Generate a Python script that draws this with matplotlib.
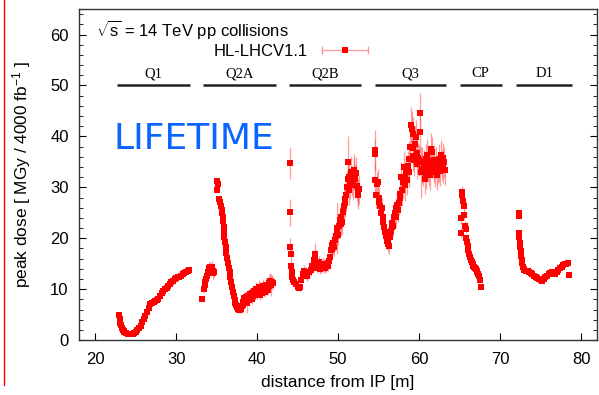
import numpy as np
import matplotlib
matplotlib.use("Agg")
import matplotlib.pyplot as plt
from matplotlib.ticker import MultipleLocator
from matplotlib.legend_handler import HandlerErrorbar
from matplotlib.container import ErrorbarContainer

plt.rcParams['font.family'] = ['Liberation Sans', 'DejaVu Sans']
plt.rcParams['mathtext.fontset'] = 'custom'
plt.rcParams['mathtext.rm'] = 'Liberation Sans'
plt.rcParams['mathtext.it'] = 'Liberation Sans:italic'

# Q1
q1_x = [22.9, 23.0, 23.1, 23.2, 23.3, 23.4, 23.5, 23.6, 23.8, 24.0, 24.2, 24.4, 24.6, 24.8,
        25.0, 25.2, 25.4, 25.6, 25.8, 26.0, 26.2, 26.4, 26.6, 26.8, 27.0, 27.2, 27.4, 27.6,
        27.8, 28.0, 28.2, 28.4, 28.6, 28.8, 29.0, 29.2, 29.4, 29.6, 29.8, 30.0, 30.2, 30.4,
        30.6, 30.8, 31.0, 31.2, 31.4, 31.6]
q1_y = [4.9, 4.1, 3.4, 2.9, 2.4, 2.0, 1.7, 1.5, 1.3, 1.2, 1.1, 1.1, 1.2, 1.4,
        1.6, 1.9, 2.3, 2.8, 3.5, 4.1, 4.8, 5.5, 6.3, 7.0, 7.3, 7.5, 7.6, 7.8,
        8.1, 8.6, 9.2, 9.6, 10.0, 10.3, 10.7, 11.1, 11.4, 11.6, 11.9, 12.1, 12.3, 12.4,
        12.6, 12.9, 13.1, 13.3, 13.5, 13.7]
q1_err = [0.3] * len(q1_x)

# Q2A
q2a_x = [33.2, 33.4, 33.5, 33.6, 33.7, 33.8, 33.9, 34.0, 34.1, 34.2, 34.3, 34.4, 34.5, 34.6, 34.7,
         35.05, 35.1, 35.05, 35.3, 35.4, 35.5, 35.6, 35.7, 35.75, 35.8, 35.85, 35.9, 35.95,
         36.05, 36.1, 36.2, 36.3, 36.4, 36.5, 36.6, 36.7, 36.8, 36.9, 37.0, 37.1, 37.2, 37.3,
         37.4, 37.5, 37.6, 37.7, 37.8, 37.9, 38.0,
         38.1, 38.2, 38.3, 38.4, 38.5, 38.6, 38.7, 38.8, 38.9, 39.0, 39.1, 39.2, 39.3, 39.4,
         39.5, 39.6, 39.7, 39.8, 39.9, 40.0, 40.1, 40.2, 40.3, 40.4, 40.5, 40.6, 40.7, 40.8,
         40.9, 41.0, 41.1, 41.2, 41.3, 41.4, 41.5, 41.6, 41.7, 41.8, 41.9]
q2a_y = [8.1, 10.0, 10.8, 11.4, 12.0, 12.6, 13.3, 13.8, 14.2, 14.3, 14.0, 14.3, 13.6, 13.1, 13.4,
         31.3, 30.6, 29.5, 27.8, 27.1, 26.3, 25.6, 25.0, 24.2, 23.4, 22.3, 21.2, 20.3,
         19.2, 18.3, 17.2, 16.1, 15.1, 14.2, 13.3, 12.4, 11.4, 10.4, 9.4, 8.6, 7.9, 7.3,
         6.8, 6.5, 6.2, 6.0, 5.9, 5.9, 6.2,
         6.6, 7.4, 6.8, 8.2, 7.6, 8.5, 7.2, 8.0, 8.6, 7.8, 9.0, 8.4, 8.0, 9.2,
         8.6, 9.6, 8.8, 9.4, 10.0, 9.0, 9.8, 10.4, 8.8, 9.6, 10.2, 9.2, 10.6, 9.8,
         10.2, 9.4, 10.8, 10.4, 9.8, 11.2, 10.6, 11.6, 10.8, 11.4, 11.2]
q2a_err = [0.5, 0.8, 0.8, 0.9, 0.9, 1.0, 1.0, 1.0, 1.1, 1.1, 1.1, 1.2, 1.1, 1.1, 1.0,
           0.4, 0.4, 0.4, 0.3, 0.3, 0.3, 0.3, 0.3, 0.3, 0.3, 0.3, 0.3, 0.3,
           0.3, 0.3, 0.3, 0.3, 0.3, 0.3, 0.3, 0.3, 0.3, 0.3, 0.3, 0.3, 0.3, 0.3,
           0.4, 0.4, 0.4, 0.5, 0.5, 0.6, 0.7,
           0.8, 1.0, 1.0, 1.2, 1.0, 1.2, 1.8, 1.0, 1.2, 1.0, 1.2, 1.0, 1.0, 1.2,
           1.0, 1.2, 1.0, 1.2, 1.4, 1.0, 1.2, 1.4, 1.0, 1.2, 1.4, 1.0, 1.4, 1.2,
           1.2, 1.0, 1.4, 1.2, 1.0, 1.6, 1.2, 1.6, 2.2, 1.4, 1.2]

# Q2B
q2b_x = [44.0, 44.05, 44.1, 44.15, 44.2, 44.25, 44.35, 44.45, 44.6, 44.8, 45.0, 45.2, 45.3,
         45.45, 45.6, 45.8, 46.0, 46.2, 46.4, 46.6, 46.8, 47.0, 47.1, 47.2, 47.3, 47.4, 47.5,
         47.6, 47.7, 47.8, 47.9, 48.0, 48.1, 48.2, 48.3, 48.4, 48.5, 48.6, 48.7, 48.8, 48.9,
         49.0, 49.1, 49.2, 49.3, 49.4, 49.5, 49.6, 49.7, 49.8, 49.9, 50.0, 50.1, 50.2, 50.3,
         50.4, 50.5, 50.6, 50.7, 50.8, 50.9, 51.0, 51.1, 51.2, 51.25, 51.3, 51.4, 51.5, 51.6,
         51.7, 51.8, 51.9, 52.0, 52.1, 52.2, 52.3, 52.4, 52.5, 52.6]
q2b_y = [34.8, 25.1, 18.3, 17.0, 14.5, 13.3, 12.4, 11.8, 11.4, 11.0, 10.5, 10.2, 10.4,
         11.8, 12.9, 13.5, 13.0, 12.6, 13.4, 13.8, 14.6, 15.8, 17.0, 16.2, 15.0, 14.2, 14.8,
         15.3, 14.4, 14.0, 14.6, 14.2, 15.0, 14.4, 14.8, 14.2, 14.6, 15.0, 14.5, 15.2, 15.6,
         16.4, 17.6, 18.6, 17.8, 19.0, 18.2, 19.6, 20.4, 22.0, 21.2, 20.6, 22.4, 23.6, 22.8,
         24.2, 23.2, 25.2, 26.4, 27.8, 27.0, 28.4, 30.0, 34.9, 31.6, 29.4, 32.0, 30.8, 33.0,
         31.2, 30.4, 32.6, 33.4, 31.6, 32.8, 30.2, 29.0, 28.4, 29.6]
q2b_err = [3.2, 2.6, 1.7, 1.5, 1.0, 0.8, 0.7, 0.6, 0.6, 0.6, 0.6, 0.6, 0.8,
           1.0, 1.0, 1.2, 1.0, 1.0, 1.2, 1.2, 1.4, 1.6, 2.0, 1.4, 1.2, 1.0, 1.2,
           1.2, 1.0, 1.0, 1.2, 1.0, 1.2, 1.0, 1.2, 1.0, 1.2, 1.2, 1.0, 1.2, 1.4,
           1.6, 1.8, 2.0, 1.6, 2.0, 1.6, 2.2, 2.4, 5.0, 2.2, 2.0, 2.4, 2.6, 2.4,
           2.6, 2.4, 2.8, 3.0, 3.0, 2.8, 3.0, 3.2, 5.2, 3.0, 2.8, 3.2, 3.0, 3.2,
           3.0, 2.8, 3.2, 3.2, 3.0, 3.2, 2.8, 2.6, 2.6, 2.8]

# Q3
q3_x = [54.5, 54.55, 54.6, 54.7, 54.8, 54.9, 55.0, 55.1, 55.2, 55.3, 55.4, 55.5, 55.6, 55.7,
        55.8, 55.9, 56.0, 56.1, 56.2, 56.3, 56.4, 56.5, 56.6, 56.7, 56.8, 56.9, 57.0, 57.1,
        57.2, 57.3, 57.4, 57.5, 57.6, 57.7, 57.8, 57.9, 58.0, 58.1, 58.2, 58.3, 58.4, 58.5,
        58.6, 58.7, 58.8, 58.9, 59.0, 59.1, 59.2, 59.25, 59.3, 59.4, 59.5, 59.6, 59.7, 59.8,
        59.9, 60.0, 60.1, 60.15, 60.2, 60.3, 60.4, 60.5, 60.6, 60.7, 60.8, 60.9, 61.0, 61.1,
        61.2, 61.3, 61.4, 61.5, 61.6, 61.7, 61.8, 61.9, 62.0, 62.1, 62.2, 62.3, 62.4, 62.5,
        62.6, 62.7, 62.8, 62.9, 63.0, 63.1, 63.2]
q3_y = [37.3, 36.5, 31.5, 28.4, 30.6, 31.0, 28.0, 27.1, 26.4, 25.0, 26.0, 24.1, 23.2, 22.2,
        21.2, 20.4, 19.4, 18.8, 19.6, 18.5, 20.2, 21.4, 22.2, 23.0, 22.4, 24.1, 25.0, 24.2,
        25.9, 26.5, 25.6, 27.0, 28.6, 28.0, 32.0, 29.4, 31.0, 33.9, 31.8, 30.4, 33.0, 31.4,
        34.2, 33.0, 35.6, 38.0, 42.2, 41.5, 40.4, 37.8, 36.2, 35.3, 38.6, 39.8, 36.8, 34.6,
        35.8, 35.3, 44.5, 40.8, 33.0, 33.6, 35.0, 33.2, 34.3, 31.6, 32.7, 35.6, 36.4, 34.0,
        33.2, 32.4, 35.2, 37.6, 36.9, 34.6, 33.8, 35.4, 33.0, 34.9, 32.4, 33.6, 35.6, 34.0,
        33.2, 36.3, 34.4, 33.7, 35.8, 34.9, 33.4]
q3_err = [4.0, 3.0, 3.0, 2.5, 2.5, 2.5, 2.0, 2.0, 2.0, 2.0, 2.0, 2.0, 2.0, 2.0,
          1.5, 1.5, 1.5, 1.5, 1.5, 1.5, 1.5, 1.5, 2.0, 2.0, 2.0, 2.0, 2.0, 2.0,
          2.0, 2.5, 2.5, 2.5, 2.5, 2.5, 3.0, 3.0, 3.0, 3.0, 3.0, 3.0, 3.0, 3.0,
          3.0, 3.0, 3.5, 3.5, 3.5, 3.5, 3.5, 3.5, 3.0, 3.0, 3.5, 3.5, 3.0, 3.0,
          3.0, 3.0, 4.0, 4.0, 5.0, 3.0, 3.0, 3.0, 3.0, 3.0, 3.0, 3.0, 3.0, 3.0,
          3.0, 3.0, 3.0, 3.0, 3.0, 3.0, 3.0, 3.0, 3.0, 3.0, 3.0, 3.0, 3.0, 3.0,
          3.0, 3.0, 3.0, 3.0, 3.0, 3.0, 3.0]

# CP
cp_x = [65.3, 65.35, 65.4, 65.5, 65.6, 65.2, 65.7, 65.75, 65.2, 65.8, 65.9, 66.0, 66.1, 66.2,
        66.3, 66.4, 66.5, 66.6, 66.7, 66.8, 66.9, 67.0, 67.1, 67.2, 67.3, 67.4, 67.5, 67.6]
cp_y = [29.0, 28.4, 27.4, 26.3, 24.5, 23.9, 22.4, 21.8, 21.0, 20.0, 19.3, 18.4, 17.7, 17.0,
        16.4, 15.8, 15.3, 14.9, 14.6, 14.3, 14.1, 13.9, 13.6, 13.3, 13.0, 12.5, 11.8, 10.4]
cp_err = [1.2, 1.0, 1.0, 1.0, 1.0, 1.2, 0.9, 0.8, 1.0, 0.7, 0.6, 0.5, 0.5, 0.5,
          0.4, 0.4, 0.4, 0.4, 0.4, 0.4, 0.4, 0.4, 0.4, 0.4, 0.4, 0.4, 0.4, 0.4]

# D1
d1_x = [72.3, 72.3, 72.35, 72.4, 72.45, 72.5, 72.55, 72.6, 72.65, 72.7, 72.8, 72.9, 73.0,
        73.2, 73.4, 73.6, 73.8, 74.0, 74.2, 74.4, 74.6, 74.8, 75.0, 75.2, 75.4, 75.6, 75.8,
        76.0, 76.2, 76.4, 76.6, 76.8, 77.0, 77.2, 77.4, 77.6, 77.8, 78.0, 78.2, 78.4, 78.55]
d1_y = [24.9, 24.3, 21.0, 20.2, 19.0, 18.2, 17.4, 16.6, 15.8, 15.1, 14.4, 14.0, 13.8,
        13.6, 13.5, 13.3, 13.1, 12.9, 12.6, 12.4, 12.2, 12.0, 11.8, 11.7, 11.9, 12.3, 12.6,
        12.9, 13.2, 13.4, 13.0, 12.9, 13.3, 13.8, 14.1, 14.4, 14.8, 14.9, 15.0, 15.1, 12.8]
d1_err = [0.4] * len(d1_x)

# magnet labels and extents along the beam line
magnets = ['Q1', 'Q2A', 'Q2B', 'Q3', 'CP', 'D1']
mag_start = [22.7, 33.3, 43.9, 54.5, 65.0, 72.0]
mag_end = [31.7, 42.3, 52.8, 63.3, 70.2, 78.9]

fig = plt.figure(figsize=(5.99, 3.95), dpi=100)
ax = fig.add_axes([0.132, 0.139, 0.865, 0.838])

segments = [(q1_x, q1_y, q1_err), (q2a_x, q2a_y, q2a_err), (q2b_x, q2b_y, q2b_err),
            (q3_x, q3_y, q3_err), (cp_x, cp_y, cp_err), (d1_x, d1_y, d1_err)]
ebar_col = (1.0, 0.3, 0.3, 0.55)
for sx, sy, se in segments:
    ax.errorbar(sx, sy, yerr=se, fmt='s', color='red', ms=4.2, mew=0,
                ecolor=ebar_col, elinewidth=0.9, capsize=2.5, capthick=0.9, zorder=3)

# legend entry: marker with a horizontal error bar (gnuplot style)
leg_marker = plt.Line2D([], [], ls='none', marker='s', color='red', ms=4.2, mew=0)
leg_bar = matplotlib.collections.LineCollection([], colors=[ebar_col], linewidths=1.0)
leg_cap = plt.Line2D([], [], ls='none', marker='|', color=ebar_col, ms=6, mew=1.0)
leg_h = ErrorbarContainer((leg_marker, (leg_cap,), (leg_bar,)), has_xerr=True,
                          has_yerr=False, label='HL-LHCV1.1')
ax.legend(handles=[leg_h], handler_map={ErrorbarContainer: HandlerErrorbar(xerr_size=1.38)},
          loc='center right', bbox_to_anchor=(0.561, 0.873), frameon=False,
          markerfirst=False, fontsize=12, handlelength=3.0, handletextpad=0.7,
          borderpad=0, borderaxespad=0)

for name, a, b in zip(magnets, mag_start, mag_end):
    ax.plot([a, b], [50, 50], color='#222222', lw=1.8, solid_capstyle='butt')
    ax.text((a + b) / 2, 51.0, name, ha='center', va='bottom', fontsize=10.5,
            family='Liberation Serif')

ax.text(0.033, 0.937, r'$\sqrt{\rm s}$ = 14 TeV pp collisions', transform=ax.transAxes,
        fontsize=12, va='center', ha='left')
ax.text(0.067, 0.607, 'LIFETIME', transform=ax.transAxes, fontsize=26, color='#0a64ff',
        va='center', ha='left', family='DejaVu Sans')

ax.set_xlim(18, 82)
ax.set_ylim(0, 65)
ax.xaxis.set_major_locator(MultipleLocator(10))
ax.yaxis.set_major_locator(MultipleLocator(10))
ax.yaxis.set_minor_locator(MultipleLocator(2))
ax.tick_params(which='both', direction='in', right=True, top=False, labelsize=12)
ax.tick_params(which='major', length=5)
ax.tick_params(which='minor', length=3)
ax.tick_params(axis='x', pad=8.5)
ax.tick_params(axis='y', pad=7.5)
for s in ax.spines.values():
    s.set_linewidth(1.0)
    s.set_color('#333333')
ax.set_xlabel('distance from IP [m]', fontsize=12.4, labelpad=6)
ax.set_ylabel(r'peak dose [ MGy / 4000 fb$^{-1}$ ]', fontsize=12.4, labelpad=12)

# thin red rule at the left edge of the picture
fig.add_artist(plt.Line2D([0.006, 0.006], [0.025, 1.0], color='red', lw=1.0,
                          transform=fig.transFigure))

fig.savefig('out.png', dpi=100)
